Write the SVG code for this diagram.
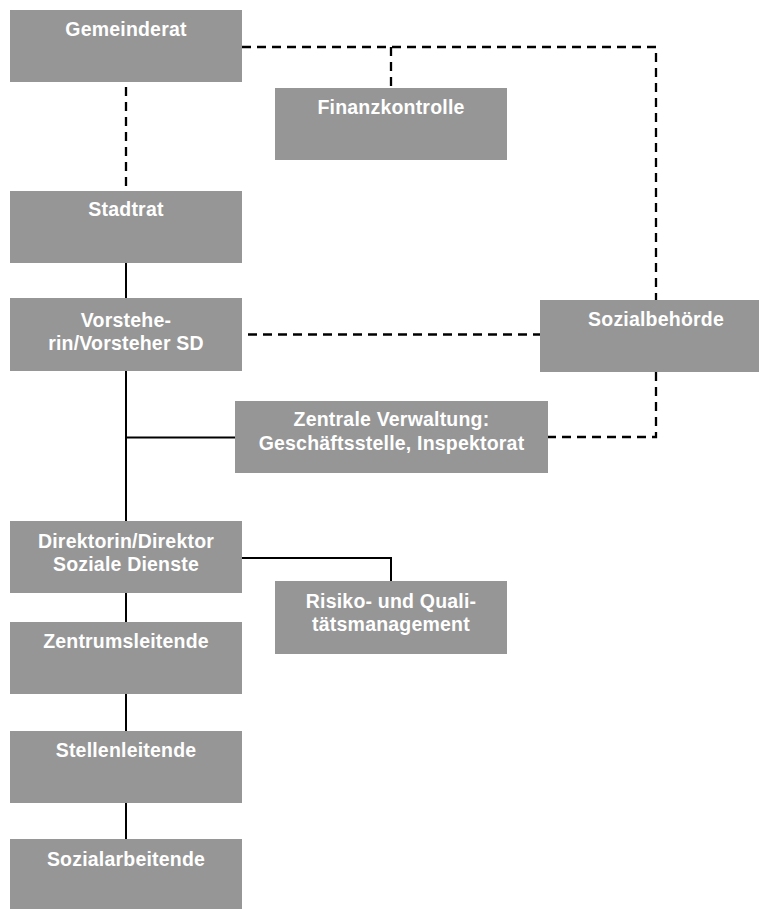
<svg xmlns="http://www.w3.org/2000/svg" width="759" height="909" viewBox="0 0 759 909">
<style>
.box{fill:#969696}
.lbl{font-family:"Liberation Sans",Arial,Helvetica,sans-serif;font-weight:bold;font-size:19.5px;letter-spacing:0.2px;fill:#ffffff;text-anchor:middle}
.solid{fill:none;stroke:#000;stroke-width:2}
.dash{fill:none;stroke:#000;stroke-width:2.3;stroke-dasharray:9 6}
</style>
<rect width="759" height="909" fill="#ffffff"/>
<g id="connectors">
<path class="dash" d="M242 47 H656 V300"/>
<path class="dash" d="M391 47 V88"/>
<path class="dash" d="M126 87 V191"/>
<path class="dash" d="M248 334.5 H540"/>
<path class="dash" d="M656 372 V437 H548"/>
<path class="solid" d="M126 263 V298"/>
<path class="solid" d="M126 371 V521"/>
<path class="solid" d="M126 437.5 H235"/>
<path class="solid" d="M242 558 H391 V581"/>
<path class="solid" d="M126 593 V622"/>
<path class="solid" d="M126 694 V731"/>
<path class="solid" d="M126 803 V839"/>
</g>
<g id="gemeinderat"><rect class="box" x="10" y="10" width="232" height="72"/><text class="lbl" x="126" y="36">Gemeinderat</text></g>
<g id="finanzkontrolle"><rect class="box" x="275" y="88" width="232" height="72"/><text class="lbl" x="391" y="114">Finanzkontrolle</text></g>
<g id="stadtrat"><rect class="box" x="10" y="191" width="232" height="72"/><text class="lbl" x="126" y="216">Stadtrat</text></g>
<g id="vorsteher"><rect class="box" x="10" y="298" width="232" height="73"/><text class="lbl" x="126" y="326.5">Vorstehe-</text><text class="lbl" x="126" y="350">rin/Vorsteher SD</text></g>
<g id="sozialbehoerde"><rect class="box" x="540" y="300" width="232" height="72"/><text class="lbl" x="656" y="326">Sozialbehörde</text></g>
<g id="zentrale"><rect class="box" x="235" y="401" width="313" height="72"/><text class="lbl" x="391.5" y="426">Zentrale Verwaltung:</text><text class="lbl" x="391.5" y="450">Geschäftsstelle, Inspektorat</text></g>
<g id="direktor"><rect class="box" x="10" y="521" width="232" height="72"/><text class="lbl" x="126" y="547.5">Direktorin/Direktor</text><text class="lbl" x="126" y="571">Soziale Dienste</text></g>
<g id="risiko"><rect class="box" x="275" y="581" width="232" height="73"/><text class="lbl" x="391" y="607.5">Risiko- und Quali-</text><text class="lbl" x="391" y="631">tätsmanagement</text></g>
<g id="zentrumsleitende"><rect class="box" x="10" y="622" width="232" height="72"/><text class="lbl" x="126" y="648">Zentrumsleitende</text></g>
<g id="stellenleitende"><rect class="box" x="10" y="731" width="232" height="72"/><text class="lbl" x="126" y="757">Stellenleitende</text></g>
<g id="sozialarbeitende"><rect class="box" x="10" y="839" width="232" height="72"/><text class="lbl" x="126" y="865.5">Sozialarbeitende</text></g>
</svg>
